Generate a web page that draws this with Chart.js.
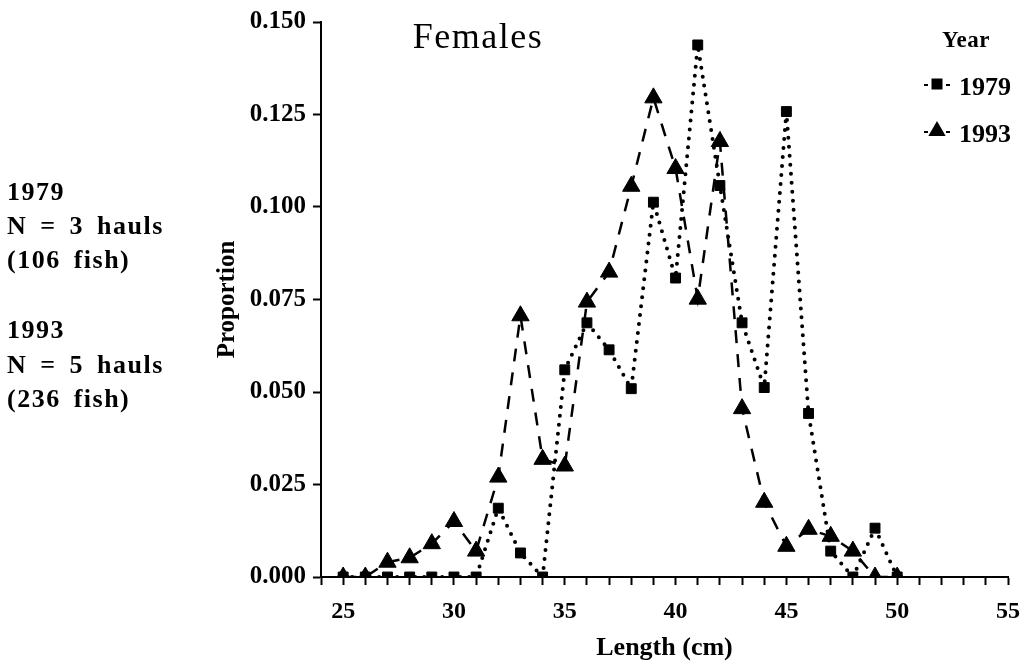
<!DOCTYPE html>
<html><head><meta charset="utf-8">
<script src="https://cdn.jsdelivr.net/npm/chart.js@4.4.1/dist/chart.umd.min.js"></script>
<style>html,body{margin:0;padding:0;background:#fff}#wrap{width:1032px;height:667px;position:relative}</style>
</head><body><div id="wrap"><canvas id="c" width="1032" height="667"></canvas></div>
<script>
const lengths = [25,26,27,28,29,30,31,32,33,34,35,36,37,38,39,40,41,42,43,44,45,46,47,48,49,50];
const prop1979 = [0,0,0,0,0,0,0,0.0186,0.0065,0,0.0560,0.0687,0.0614,0.0509,0.1013,0.0808,0.1438,0.1058,0.0687,0.0512,0.1258,0.0442,0.0070,0,0.0132,0];
const prop1993 = [0,0,0.0040,0.0052,0.0090,0.0150,0.0070,0.0270,0.0706,0.0318,0.0300,0.0743,0.0824,0.1056,0.1295,0.1104,0.0751,0.1177,0.0455,0.0202,0.0083,0.0129,0.0110,0.0070,0,0];
const seriesNames = ['1979','1993'];
const xLabelTicks = [25,30,35,40,45,50,55];
const yTickValues = [0,0.025,0.05,0.075,0.1,0.125,0.15];
const chartTitle = 'Females';
const legendTitle = 'Year';
const xTitle = 'Length (cm)';
const yTitle = 'Proportion';
const notes1979 = ['1979','N = 3 hauls','(106 fish)'];
const notes1993 = ['1993','N = 5 hauls','(236 fish)'];

const FONT = '"Liberation Serif", "Times New Roman", serif';
const toPts = arr => lengths.map((x,i)=>({x:x, y:arr[i]}));

function spacing(ctx, ls, ws){
  if ('letterSpacing' in ctx) ctx.letterSpacing = ls;
  if ('wordSpacing' in ctx) ctx.wordSpacing = ws;
}
function square(ctx,x,y,s){ ctx.fillRect(x-s/2,y-s/2,s,s); }
function triangle(ctx,x,y,r){
  ctx.beginPath();
  ctx.moveTo(x, y - r);
  ctx.lineTo(x + r*0.866, y + r*0.5);
  ctx.lineTo(x - r*0.866, y + r*0.5);
  ctx.closePath(); ctx.fill();
}

const textPlugin = {
  id:'texts',
  afterDraw(chart){
    const ctx = chart.ctx;
    ctx.save();
    ctx.fillStyle = '#000'; ctx.strokeStyle = '#000';
    ctx.textBaseline = 'alphabetic';
    ctx.font = '36px ' + FONT; spacing(ctx,'1.5px','0px');
    ctx.textAlign = 'center';
    ctx.fillText(chartTitle, 478, 48);
    ctx.font = 'bold 23px ' + FONT; spacing(ctx,'0.5px','0px');
    ctx.fillText(legendTitle, 966, 47);
    ctx.textAlign = 'left';
    ctx.font = 'bold 26px ' + FONT; spacing(ctx,'0px','0px');
    ctx.fillText(seriesNames[0], 959, 95);
    ctx.fillText(seriesNames[1], 959, 142);
    ctx.lineWidth = 2;
    [84,131].forEach(yy=>{
      ctx.beginPath(); ctx.moveTo(924,yy+1); ctx.lineTo(928,yy+1); ctx.moveTo(946,yy+1); ctx.lineTo(950,yy+1); ctx.stroke();
    });
    square(ctx,937,84,11);
    triangle(ctx,937,131,10);
    ctx.font = 'bold 26px ' + FONT; spacing(ctx,'1.5px','5px');
    const b1 = [200,234,268], b2 = [338,373,407];
    notes1979.forEach((t,i)=>ctx.fillText(t, 7, b1[i]));
    notes1993.forEach((t,i)=>ctx.fillText(t, 7, b2[i]));
    ctx.restore();
  }
};

new Chart(document.getElementById('c'), {
  type:'line',
  data:{
    datasets:[
      {label:seriesNames[0], data:toPts(prop1979), order:1,
       borderColor:'#000', backgroundColor:'#000', borderWidth:4,
       borderDash:[0,9], borderCapStyle:'round',
       pointStyle:'rect', pointRadius:7, pointBorderWidth:1, pointBackgroundColor:'#000', pointBorderColor:'#000'},
      {label:seriesNames[1], data:toPts(prop1993), order:0,
       borderColor:'#000', backgroundColor:'#000', borderWidth:2.5,
       borderDash:[13,11],
       pointStyle:'triangle', pointRadius:10, pointBorderWidth:1, pointBackgroundColor:'#000', pointBorderColor:'#000'}
    ]
  },
  options:{
    responsive:false, animation:false, devicePixelRatio:1,
    layout:{padding:{left:213, top:20, right:19, bottom:0}},
    plugins:{legend:{display:false}, tooltip:{enabled:false}},
    elements:{line:{tension:0}},
    scales:{
      x:{type:'linear', min:24, max:55,
        afterFit(s){ s.height = 90; },
        border:{color:'#000', width:2},
        grid:{drawOnChartArea:false, tickLength:8, tickColor:'#000', tickWidth:2},
        ticks:{stepSize:1, autoSkip:false, maxRotation:0, padding:12, color:'#000',
          font:{family:FONT, size:24, weight:'bold'},
          callback:v=> xLabelTicks.includes(v) ? String(v) : ''},
        title:{display:true, text:xTitle, color:'#000', padding:{top:0,bottom:3},
          font:{family:FONT, size:26, weight:'bold'}}
      },
      y:{type:'linear', min:0, max:0.15,
        afterFit(s){ s.width = 108; },
        afterBuildTicks(s){ s.ticks = yTickValues.map(v=>({value:v})); },
        border:{color:'#000', width:2},
        grid:{drawOnChartArea:false, tickLength:8, tickColor:'#000', tickWidth:2},
        ticks:{padding:7, color:'#000', font:{family:FONT, size:25, weight:'bold'},
          callback:v=> v.toFixed(3)},
        title:{display:true, text:yTitle, color:'#000', padding:{top:0,bottom:0},
          font:{family:FONT, size:25, weight:'bold'}}
      }
    }
  },
  plugins:[textPlugin]
});
</script></body></html>
